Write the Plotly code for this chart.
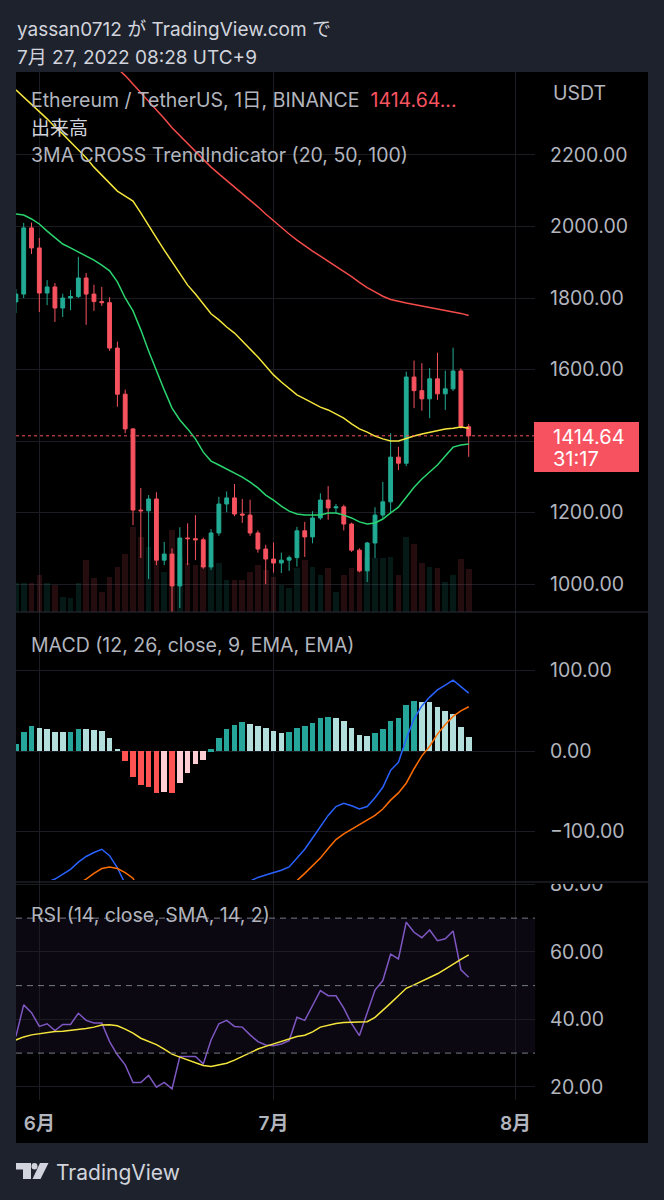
import pandas as pd
import plotly.graph_objects as go

# ---------------- data ----------------
dates = pd.date_range("2022-05-29", "2022-07-26", freq="D")

open_ = [1789, 1811, 1996, 1940, 1814, 1831, 1772, 1800, 1804, 1856, 1811, 1790, 1787, 1660, 1531,
         1434, 1207, 1205, 1238, 1067, 1084, 995, 1129, 1127, 1124, 1048, 1143, 1224, 1241, 1196,
         1193, 1143, 1098, 1070, 1059, 1067, 1074, 1149, 1132, 1185, 1235, 1213, 1216, 1168, 1095,
         1037, 1115, 1193, 1230, 1355, 1338, 1579, 1541, 1518, 1574, 1532, 1546, 1596, 1440]
high = [1825, 2010, 2011, 1968, 1850, 1842, 1812, 1822, 1915, 1870, 1837, 1831, 1802, 1678, 1544,
        1436, 1269, 1249, 1257, 1118, 1100, 1159, 1170, 1193, 1130, 1154, 1244, 1259, 1280, 1238,
        1236, 1150, 1110, 1116, 1088, 1080, 1160, 1174, 1204, 1254, 1274, 1224, 1222, 1172, 1100,
        1118, 1215, 1286, 1422, 1384, 1594, 1625, 1618, 1604, 1647, 1597, 1661, 1603, 1448]
low = [1758, 1800, 1923, 1761, 1780, 1733, 1747, 1766, 1800, 1725, 1764, 1778, 1652, 1496, 1422,
       1165, 1073, 1014, 1053, 1053, 880, 933, 1053, 1067, 1043, 1040, 1135, 1201, 1190, 1171,
       1135, 1088, 1000, 1032, 1031, 1037, 1049, 1076, 1114, 1180, 1180, 1200, 1150, 1090, 1033,
       1006, 1073, 1185, 1199, 1319, 1330, 1492, 1485, 1464, 1515, 1487, 1540, 1435, 1356]
close = [1811, 1996, 1940, 1814, 1831, 1772, 1800, 1804, 1856, 1811, 1790, 1787, 1660, 1531, 1434,
         1207, 1205, 1238, 1067, 1084, 995, 1129, 1127, 1124, 1048, 1143, 1224, 1241, 1196, 1193,
         1143, 1098, 1070, 1059, 1067, 1074, 1149, 1132, 1185, 1235, 1213, 1216, 1168, 1095, 1037,
         1115, 1193, 1230, 1355, 1338, 1579, 1541, 1518, 1574, 1532, 1546, 1596, 1440, 1414.64]
volume = [754, 754, 754, 962, 754, 702, 390, 364, 754, 1352, 884, 520, 910, 1170, 1508,
          2210, 1950, 1690, 1430, 1040, 2132, 1430, 1274, 1222, 1222, 1222, 1274, 832, 832, 832,
          1040, 1222, 1092, 910, 702, 624, 1144, 1352, 1170, 962, 1144, 520, 962, 1144, 1144,
          1430, 1404, 1404, 1430, 962, 1950, 1768, 1274, 1170, 1144, 780, 962, 1378, 1118]

ma20 = [2035, 2032, 2021, 2007, 1987, 1968, 1951, 1940, 1929, 1918, 1906, 1892, 1876, 1845, 1800,
        1764, 1711, 1652, 1596, 1543, 1492, 1459, 1434, 1406, 1369, 1344, 1333, 1322, 1311, 1299,
        1285, 1269, 1249, 1235, 1218, 1204, 1196, 1193, 1193, 1193, 1199, 1199, 1193, 1185, 1174,
        1168, 1171, 1182, 1199, 1215, 1243, 1271, 1294, 1313, 1333, 1358, 1383, 1389, 1392]
ma50 = [2382, 2362, 2343, 2323, 2301, 2278, 2259, 2236, 2214, 2192, 2166, 2144, 2122, 2099, 2085,
        2071, 2038, 2001, 1968, 1934, 1901, 1867, 1836, 1811, 1783, 1756, 1739, 1719, 1702, 1680,
        1657, 1635, 1610, 1585, 1565, 1546, 1529, 1518, 1506, 1495, 1487, 1476, 1464, 1448, 1434,
        1425, 1414, 1406, 1400, 1400, 1408, 1414, 1420, 1425, 1431, 1434, 1436, 1439, 1436]
ma100 = [2617, 2601, 2589, 2576, 2562, 2548, 2534, 2521, 2509, 2496, 2483, 2470, 2457, 2442, 2422,
         2398, 2375, 2352, 2327, 2302, 2276, 2254, 2231, 2209, 2187, 2166, 2147, 2129, 2111, 2093,
         2074, 2055, 2035, 2016, 1997, 1979, 1962, 1946, 1931, 1917, 1903, 1890, 1876, 1860, 1844,
         1829, 1817, 1805, 1796, 1790, 1786, 1782, 1778, 1774, 1770, 1766, 1763, 1757, 1751]

macd = [-195, -178, -170, -167, -163, -159, -153, -147, -138, -131, -126, -122, -130, -145, -165,
        -190, -220, -230, -245, -250, -258, -250, -242, -233, -230, -217, -203, -188, -176, -166,
        -161, -157, -154, -151, -148, -144, -133, -122, -108, -94, -80, -69, -65, -68, -72,
        -69, -58, -45, -24, -14, 15, 40, 56, 67, 76, 82, 88, 80, 72]
signal = [-203, -202, -201, -195, -190, -183, -177, -171, -166, -159, -152, -146, -144, -146, -151,
          -158, -177, -186, -193, -199, -206, -211, -215, -217, -219, -219, -219, -216, -208, -202,
          -195, -188, -182, -176, -171, -167, -161, -152, -142, -133, -121, -110, -103, -97, -91,
          -86, -80, -72, -61, -52, -40, -22, -6, 6, 21, 33, 43, 50, 55]
hist = [8.3, 24, 31, 28, 27, 24, 23.5, 24, 27.7, 27.5, 25.7, 25, 16.6, 2.9, -12.4,
        -32.3, -42.7, -44.3, -51.8, -51, -51.8, -39.3, -26.9, -15.7, -11.2, 2.1, 15.7, 27.7, 32.3, 36,
        34, 31, 28, 25, 23, 23.5, 28.6, 31, 35.2, 40.6, 42.2, 41.4, 37.7, 29, 19.5,
        18.2, 22.4, 27, 37.3, 41, 57, 62.5, 61.3, 61, 55, 49.3, 45.5, 30.2, 17.8]

rsi = [34.9, 44.3, 42.0, 37.9, 38.7, 36.7, 38.5, 38.5, 41.8, 39.7, 38.9, 38.9, 33.4, 29.5, 26.5,
       21.3, 21.3, 23.4, 19.9, 21.3, 19.4, 29.0, 29.0, 29.0, 26.8, 33.9, 38.7, 39.7, 37.9, 37.7,
       35.4, 33.4, 32.4, 32.2, 32.7, 33.7, 40.6, 39.7, 44.1, 48.5, 47.0, 47.0, 43.3, 38.7, 35.2,
       42.0, 48.7, 51.5, 59.3, 57.9, 68.8, 65.8, 64.2, 66.5, 63.3, 63.9, 66.2, 54.7, 52.5]
rsi_ma = [33.9, 34.8, 35.4, 35.8, 36.2, 36.4, 36.5, 36.7, 37.0, 37.3, 37.7, 38.3, 38.4, 38.1, 37.1,
          35.9, 34.4, 33.4, 32.5, 31.2, 29.7, 28.8, 27.9, 27.0, 26.3, 26.0, 26.4, 27.0, 27.9, 29.0,
          30.1, 31.2, 32.0, 32.7, 33.4, 34.1, 34.9, 35.3, 36.3, 37.7, 38.3, 38.8, 39.1, 39.2, 39.2,
          39.3, 40.6, 42.6, 44.8, 47.0, 49.2, 50.2, 51.3, 52.5, 53.5, 54.9, 56.4, 57.8, 59.1]

price_ticks = [1000, 1200, 1400, 1600, 1800, 2000, 2200]
price_labels = ["1000.00", "1200.00", "", "1600.00", "1800.00", "2000.00", "2200.00"]
macd_ticks = [-100, 0, 100]
macd_labels = ["\u2212100.00", "0.00", "100.00"]
rsi_ticks = [20, 40, 60, 80]
rsi_labels = ["20.00", "40.00", "60.00", "80.00"]
month_ticks = ["2022-06-01", "2022-07-01", "2022-08-01"]
month_labels = ["6月", "7月", "8月"]
last_price = 1414.64

# ---------------- styling ----------------
UP, DN = "#22ab94", "#f7525f"
BG = "#1e222d"
TXT = "#b2b5be"
GRID = "#1b1d23"
FONT = "Inter, 'Noto Sans CJK JP', sans-serif"

W, H = 664, 1200
L, R, T, B = 16, 535, 72, 1100


def px(x):
    return (x - L) / (R - L)


def py(y):
    return (B - y) / (B - T)


DAY = 86400000
fig = go.Figure()

vol_colors = ["rgba(34,171,148,0.15)" if c >= o else "rgba(247,82,95,0.15)" for o, c in zip(open_, close)]
fig.add_trace(go.Bar(x=dates, y=volume, marker_color=vol_colors, marker_line_width=0,
                     width=0.72 * DAY, yaxis="y4", hoverinfo="skip"))

fig.add_trace(go.Candlestick(x=dates, open=open_, high=high, low=low, close=close,
                             increasing=dict(line=dict(color=UP, width=1), fillcolor=UP),
                             decreasing=dict(line=dict(color=DN, width=1), fillcolor=DN),
                             whiskerwidth=0, yaxis="y"))

for vals, col in [(ma100, "#f44b4b"), (ma50, "#f5e63c"), (ma20, "#2ad46f")]:
    fig.add_trace(go.Scatter(x=dates, y=vals, mode="lines", line=dict(color=col, width=1.5), yaxis="y"))

hcol = []
for i, h in enumerate(hist):
    prev = hist[i - 1] if i > 0 else 0
    if h >= 0:
        hcol.append("#26a69a" if h >= prev else "#b2dfdb")
    else:
        hcol.append("#ff5252" if h <= prev else "#ffcdd2")
fig.add_trace(go.Bar(x=dates, y=hist, marker_color=hcol, marker_line_width=0,
                     width=0.72 * DAY, yaxis="y2"))
fig.add_trace(go.Scatter(x=dates, y=macd, mode="lines", line=dict(color="#2962ff", width=1.5), yaxis="y2"))
fig.add_trace(go.Scatter(x=dates, y=signal, mode="lines", line=dict(color="#ff6d00", width=1.5), yaxis="y2"))

fig.add_trace(go.Scatter(x=dates, y=rsi, mode="lines", line=dict(color="#7e57c2", width=1.5), yaxis="y3"))
fig.add_trace(go.Scatter(x=dates, y=rsi_ma, mode="lines", line=dict(color="#f5e63c", width=1.5), yaxis="y3"))

axis_font = dict(family=FONT, size=19.5, color=TXT)
common_y = dict(side="right", showgrid=True, gridcolor=GRID, gridwidth=1, zeroline=False,
                showline=False, ticks="", tickfont=axis_font, ticklabelstandoff=14, fixedrange=True)

fig.update_layout(
    width=W, height=H,
    margin=dict(l=L, r=W - R, t=T, b=H - B, pad=0),
    paper_bgcolor=BG, plot_bgcolor="#000000",
    showlegend=False, bargap=0,
    font=dict(family=FONT, color=TXT),
    xaxis=dict(type="date", domain=[0, 1], anchor="y3",
               range=["2022-05-29 00:20", "2022-08-03 11:50"],
               rangeslider=dict(visible=False),
               tickvals=month_ticks, ticktext=month_labels,
               tickfont=dict(family=FONT, size=19, color=TXT, weight=600),
               ticks="", ticklabelstandoff=10,
               showgrid=True, gridcolor=GRID, zeroline=False, showline=False),
    yaxis=dict(domain=[py(612), 1], range=[922, 2432], anchor="x",
               tickvals=price_ticks, ticktext=price_labels, **common_y),
    yaxis2=dict(domain=[py(880), py(612)], range=[-160.2, 172.7], anchor="x",
                tickvals=macd_ticks, ticktext=macd_labels, **common_y),
    yaxis3=dict(domain=[0, py(880)], range=[16.1, 81.3], anchor="x",
                tickvals=rsi_ticks, ticktext=rsi_labels, **common_y),
    yaxis4=dict(overlaying="y", range=[0, 14040], visible=False, fixedrange=True),
)

shapes = []
# black chart panel
shapes.append(dict(type="rect", xref="paper", yref="paper", x0=px(16), x1=px(648), y0=py(1143), y1=py(72),
                   fillcolor="#000000", line_width=0, layer="below"))
# MACD pane axis area hides the top of the cut "80.00" label
shapes.append(dict(type="rect", xref="paper", yref="paper", x0=px(536), x1=px(648), y0=py(884), y1=py(866),
                   fillcolor="#000000", line_width=0, layer="above"))
# pane separators
for yy in (612, 882):
    shapes.append(dict(type="line", xref="paper", yref="paper", x0=px(16), x1=px(648), y0=py(yy), y1=py(yy),
                       line=dict(color="#2a2e39", width=1)))
# RSI band and levels
shapes.append(dict(type="rect", xref="paper", yref="y3", x0=0, x1=1, y0=30, y1=70,
                   fillcolor="rgba(126,87,194,0.09)", line_width=0, layer="below"))
for lv in (70, 50, 30):
    shapes.append(dict(type="line", xref="paper", yref="y3", x0=0, x1=1, y0=lv, y1=lv,
                       line=dict(color="#787b86", width=1, dash="6px,5px")))
# last price dotted line
shapes.append(dict(type="line", xref="paper", yref="y", x0=0, x1=1, y0=last_price, y1=last_price,
                   line=dict(color=DN, width=1, dash="dot")))
# price label box
shapes.append(dict(type="rect", xref="paper", yref="paper", x0=px(534), x1=px(639), y0=py(472), y1=py(422),
                   fillcolor=DN, line_width=0, layer="above"))


# TradingView logo
def path(pts):
    return "M " + " L ".join(f"{px(a):.5f},{py(b):.5f}" for a, b in pts) + " Z"


shapes.append(dict(type="path", xref="paper", yref="paper",
                   path=path([(16, 1163), (31, 1163), (31, 1179), (23, 1179), (23, 1169.5), (16, 1169.5)]),
                   fillcolor="#d1d4dc", line_width=0))
shapes.append(dict(type="circle", xref="paper", yref="paper", x0=px(31.5), x1=px(37.5), y0=py(1169.5), y1=py(1163),
                   fillcolor="#d1d4dc", line_width=0))
shapes.append(dict(type="path", xref="paper", yref="paper",
                   path=path([(40, 1163), (48.5, 1163), (40.5, 1179), (32.5, 1179)]),
                   fillcolor="#d1d4dc", line_width=0))
fig.update_layout(shapes=shapes)

ann = []


def txt(x, y, s, size=19, color=TXT, anchor="left", **kw):
    ann.append(dict(x=px(x), y=py(y), xref="paper", yref="paper", text=s, showarrow=False,
                    xanchor=anchor, yanchor="middle", font=dict(family=FONT, size=size, color=color, **kw)))


txt(15, 30, "yassan0712 が TradingView.com で", size=19, color="#d1d4dc")
txt(15, 57, "7月 27, 2022 08:28 UTC+9", size=19, color="#d1d4dc")
txt(29, 100, f"Ethereum / TetherUS, 1日, BINANCE  <span style='color:{DN}'>{last_price:.2f}...</span>", size=19.5)
txt(29, 128, "出来高", size=19, color="#d1d4dc")
txt(29, 155, "3MA CROSS TrendIndicator (20, 50, 100)", size=19.5)
txt(551, 93, "USDT", size=19.5)
txt(29, 645, "MACD (12, 26, close, 9, EMA, EMA)", size=19.5)
txt(29, 915, "RSI (14, close, SMA, 14, 2)", size=19.5)
txt(551, 437, f"{last_price:.2f}", size=20, color="#ffffff")
txt(551, 459, "31:17", size=20, color="#ffffff")
txt(54, 1172, "TradingView", size=21, color="#d1d4dc")
fig.update_layout(annotations=ann)

fig.write_html("out.html")
